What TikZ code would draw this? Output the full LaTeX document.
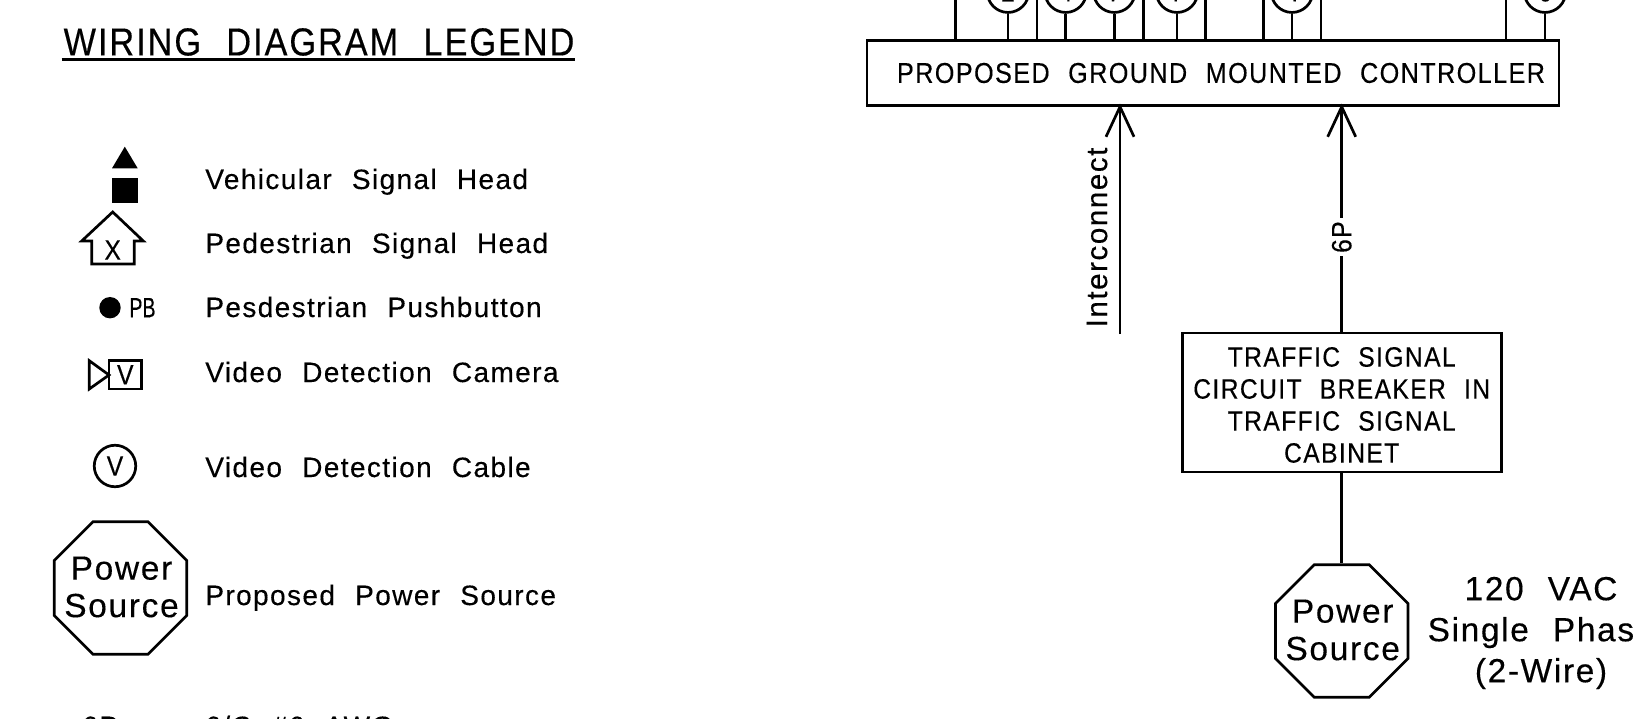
\documentclass[tikz,border=0pt]{standalone}
\usepackage{fontspec}
\setmainfont{Liberation Sans}
\newfontfamily\cadcaps[FakeStretch=0.88,LetterSpace=5,WordSpace=2.2,FakeBold=0.3]{Liberation Sans}
\newfontfamily\cadfont[FakeStretch=1.0,LetterSpace=5,WordSpace=2.2,FakeBold=0.3]{Liberation Sans}
\newfontfamily\cadthin[FakeStretch=0.7,FakeBold=0.3]{Liberation Sans}
\usetikzlibrary{arrows.meta,positioning,shapes.geometric}
\tikzset{
  %Define standard arrow tip
  >={Straight Barb[length=30pt,width=28pt,line width=2.7pt]},
  %Define style for boxes
  wirebox/.style={
    rectangle,
    draw=black, line width=2.7pt,
    inner sep=0pt,
    align=center},
  % Define style for the stop sign
  powerbox/.style={
    regular polygon, regular polygon sides=8,
    draw=black, line width=2.7pt,
    minimum size=143.5pt,
    inner sep=0pt},
  powerlabel/.style={
    inner sep=0pt,
    align=center,
    font=\cadfont\fontsize{33.5}{37.5}\selectfont},
  % Define style for circled phase labels
  tagcircle/.style={
    circle,
    draw=black, line width=2.7pt,
    minimum size=41.5pt,
    inner sep=0pt,
    font=\cadcaps\fontsize{28}{28}\selectfont},
  legendtext/.style={
    anchor=base west,
    inner sep=0pt,
    font=\cadfont\fontsize{28}{28}\selectfont},
  % Define arrow style
  wire/.style={line width=2.7pt}
}

\begin{document}
\begin{tikzpicture}[x=1pt,y=-1pt,wire]
  \clip (0,0) rectangle (1633,719);
  \fill[white] (0,0) rectangle (1633,719);

  % legend
  \node[inner sep=0pt,font=\cadcaps\fontsize{39}{39}\selectfont] (title) at (319,42) {WIRING DIAGRAM LEGEND};
  \coordinate (titleL) at (61.5,59.4);
  \coordinate (titleR) at (575,59.4);
  \draw (titleL) -- (titleR);

  \fill (124.8,146.7) -- (137.7,168.3) -- (112,168.3) -- cycle;
  \node[fill=black,minimum size=25.5pt,inner sep=0pt] (head) at (124.8,190.3) {};
  \node[legendtext] (vehicular) at (204,189) {Vehicular Signal Head};

  \draw[line join=miter] (112.7,212) -- (143.3,241) -- (134.3,241) -- (134.3,264) -- (91.7,264) -- (91.7,241) -- (81.7,241) -- cycle;
  \node[font=\cadcaps\fontsize{28}{28}\selectfont,inner sep=0pt] (walk) at (112.7,250) {X};
  \node[legendtext] (pedestrian) at (204,253) {Pedestrian Signal Head};

  \node[circle,fill=black,minimum size=21.4pt,inner sep=0pt] (button) at (110,307.7) {};
  \node[right=6pt of button,inner sep=0pt,font=\cadthin\fontsize{28}{28}\selectfont] (pb) {PB};
  \node[legendtext] (pushbutton) at (204,317) {Pesdestrian Pushbutton};

  \draw (89.3,360.7) -- (109,375) -- (89.3,389) -- cycle;
  \node[wirebox,minimum width=32.7pt,minimum height=28.3pt,font=\cadcaps\fontsize{28}{28}\selectfont] (camera) at (125.3,374.8) {V};
  \node[legendtext] (cameratext) at (204,382) {Video Detection Camera};

  \node[tagcircle] (cable) at (115,466) {V};
  \node[legendtext] (cabletext) at (204,477) {Video Detection Cable};

  \node[powerbox] (legendpower) at (120.5,588) {};
  \node[powerlabel] (legendpowertext) at (121.5,587) {Power\\Source};
  \node[legendtext] (powertext) at (204,605) {Proposed Power Source};

  \node[legendtext] (conduit) at (81,736) {6P};
  \node[legendtext] (conduittext) at (204,736) {6/C \#6 AWG};

  % controller
  \node[wirebox,minimum width=692pt,minimum height=64.5pt] (controller) at (1213,73) {};
  \node[inner sep=0pt,font=\cadcaps\fontsize{28.6}{29}\selectfont] (controllertext) at (1221,73) {PROPOSED GROUND MOUNTED CONTROLLER};

  \node[wirebox,minimum width=319pt,minimum height=139pt] (breaker) at (1341.7,402.5) {};
  \node[align=center,inner sep=0pt,font=\cadcaps\fontsize{28}{32}\selectfont] (breakertext) at (1341.7,405) {TRAFFIC SIGNAL\\CIRCUIT BREAKER IN\\TRAFFIC SIGNAL\\CABINET};

  \node[powerbox] (power) at (1341.7,631) {};
  \node[powerlabel] (powerlabeltext) at (1342.7,630) {Power\\Source};
  \node[align=center,inner sep=0pt,font=\cadfont\fontsize{33.4}{41}\selectfont] (supply) at (1541,633) {120 VAC\\Single Phase\\(2-Wire)};

  \coordinate (freeend) at (1120,334);
  \draw[->,shorten >=-3pt] (freeend) -- (freeend |- controller.south);
  \node[rotate=90,inner sep=0pt,font=\cadfont\fontsize{29.7}{30}\selectfont] (interconnect) at (1097,237.5) {Interconnect};
  \draw[->,shorten >=-3pt] (breaker.north) -- node[pos=0.42,rotate=90,fill=white,inner sep=3pt,font=\cadcaps\fontsize{28}{28}\selectfont] (sixp) {6P} (breaker.north |- controller.south);
  \draw (breaker) -- (power);

  % phase circles
  \foreach \name/\px/\lbl in {a/1008/2,b/1065.7/4,c/1114.3/7,d/1177/7,e/1292/4,f/1545/6}{
    \node[tagcircle] (\name) at (\px,-8.3) {\lbl};
    \draw (\name.south) -- (\name.south |- controller.north);
  }
  % stub wires
  \foreach \px in {955.7,1037,1143.3,1205.7,1263.3,1321,1506}{
    \coordinate (stub) at (\px,-3);
    \draw (stub) -- (stub |- controller.north);
  }
\end{tikzpicture}
\end{document}
